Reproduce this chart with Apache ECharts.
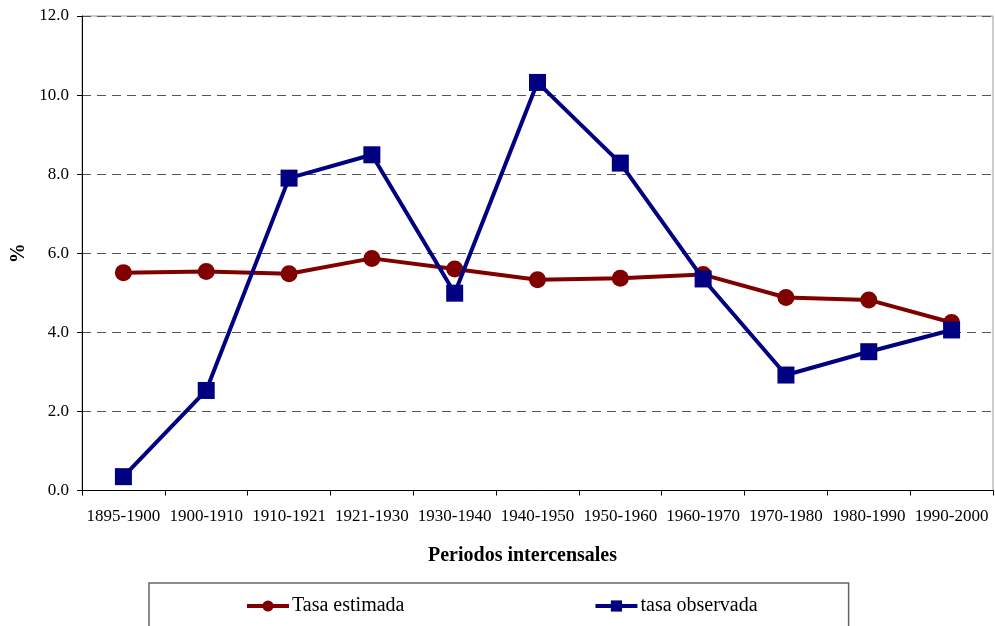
<!DOCTYPE html>
<html>
<head>
<meta charset="utf-8">
<script src="https://cdn.jsdelivr.net/npm/echarts@6/dist/echarts.min.js"></script>
<style>
  html, body { margin: 0; padding: 0; background: #fff; }
  #main { width: 995px; height: 626px; }
</style>
</head>
<body>
<div id="main"></div>
<script>
// periodos intercensales
var periodos = ['1895-1900', '1900-1910', '1910-1921', '1921-1930', '1930-1940', '1940-1950',
  '1950-1960', '1960-1970', '1970-1980', '1980-1990', '1990-2000'];
// tasa estimada (%)
var tasaEstimada = [5.51, 5.54, 5.48, 5.87, 5.60, 5.33, 5.37, 5.46, 4.88, 4.82, 4.25];
// tasa observada (%)
var tasaObservada = [0.35, 2.53, 7.90, 8.49, 4.99, 10.32, 8.28, 5.35, 2.92, 3.51, 4.06];

var fuente = 'Liberation Serif';

var myChart = echarts.init(document.getElementById('main'));

var option = {
  animation: false,
  textStyle: { fontFamily: fuente, color: '#000' },
  grid: {
    left: 82,
    right: 2,
    top: 16,
    bottom: 135.5,
    show: true,
    borderColor: '#999',
    borderWidth: 1
  },
  legend: {
    data: ['Tasa estimada', 'tasa observada'],
    left: 149,
    top: 583,
    padding: [13, 91, 40, 96],
    itemGap: 189,
    itemWidth: 42,
    itemHeight: 14,
    borderColor: '#666',
    borderWidth: 1.5,
    lineStyle: { width: 4 },
    textStyle: { fontFamily: fuente, fontSize: 20, color: '#000', padding: [0, 0, 0, -2] }
  },
  xAxis: {
    type: 'category',
    data: periodos,
    boundaryGap: true,
    name: 'Periodos intercensales',
    nameLocation: 'middle',
    nameGap: 55,
    nameTextStyle: { fontFamily: fuente, fontSize: 20, fontWeight: 'bold', color: '#000', padding: [0, 30, 0, 0] },
    axisLine: { lineStyle: { color: '#000', width: 1 } },
    axisTick: { show: true, alignWithLabel: false, length: 5, lineStyle: { color: '#000' } },
    axisLabel: { fontFamily: fuente, fontSize: 17, color: '#000', margin: 18, interval: 0 },
    splitLine: { show: false }
  },
  yAxis: {
    type: 'value',
    min: 0,
    max: 12,
    interval: 2,
    name: '%',
    nameLocation: 'middle',
    nameGap: 53,
    nameRotate: 90,
    nameTextStyle: { fontFamily: fuente, fontSize: 20, fontWeight: 'bold', color: '#000' },
    axisLine: { show: true, lineStyle: { color: '#000', width: 1 } },
    axisTick: { show: true, length: 5, lineStyle: { color: '#000' } },
    axisLabel: {
      fontFamily: fuente, fontSize: 17, color: '#000', margin: 13,
      formatter: function (v) { return v.toFixed(1); }
    },
    splitLine: { show: true, lineStyle: { color: '#555', type: [9, 6], width: 1 } }
  },
  series: [
    {
      name: 'Tasa estimada',
      type: 'line',
      data: tasaEstimada,
      color: '#800000',
      symbol: 'circle',
      symbolSize: 17,
      lineStyle: { width: 4, color: '#800000' },
      itemStyle: { color: '#800000' },
      z: 2
    },
    {
      name: 'tasa observada',
      type: 'line',
      data: tasaObservada,
      color: '#000080',
      symbol: 'rect',
      symbolSize: 17,
      lineStyle: { width: 4, color: '#000080' },
      itemStyle: { color: '#000080' },
      z: 3
    }
  ]
};

myChart.setOption(option);
</script>
</body>
</html>
